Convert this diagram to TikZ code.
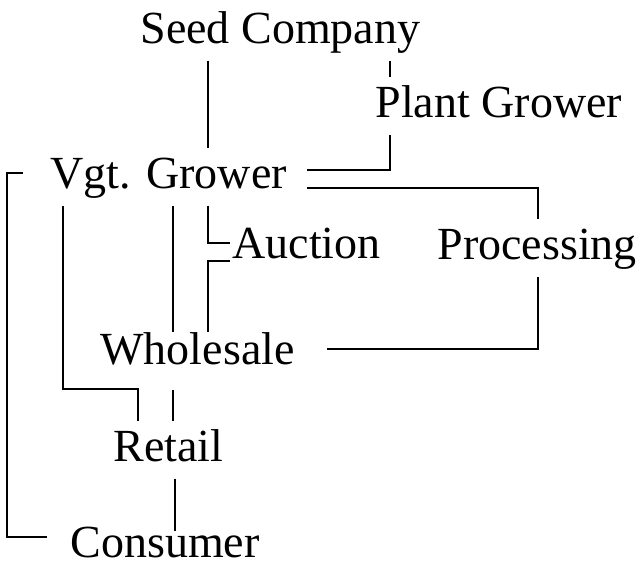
\documentclass[tikz,border=0pt]{standalone}
\usepackage{fontspec}
\setmainfont{Liberation Serif}

\begin{document}
\begin{tikzpicture}[x=0.5pt, y=-0.5pt, line width=0.55pt,
  stage/.style={font=\fontsize{23}{26}\selectfont, anchor=base west,
    inner xsep=1pt, inner ysep=3.5pt, text height=16pt, text depth=5pt}]
\useasboundingbox (0,0) rectangle (637,568);
\node[stage] (seed)    at (138,43)  {Seed Company};
\node[stage] (plant)   at (373,117) {Plant Grower};
\node[stage] (vgt)     at (48,188)  {Vgt. Grower};
\node[stage] (auction) at (230,258) {Auction};
\node[stage] (proc)    at (435,259) {Processing};
\node[stage] (whole)   at (98,364)  {Wholesale};
\node[stage] (retail)  at (111,461) {Retail};
\node[stage] (cons)    at (68,557)  {Consumer};
% trunks of the connectors
\coordinate (ka) at (208,0);
\coordinate (kb) at (390,0);
\coordinate (kc) at (538,0);
\coordinate (ke) at (173,0);
\coordinate (kf) at (63,0);
\coordinate (kg) at (138,389);
\coordinate (kh) at (175,0);
\coordinate (ki) at (7,350);
\draw (seed.south -| ka) -- (vgt.north -| ka);
\draw (seed.south -| kb) -- (plant.north -| kb);
\draw (plant.south -| kb) |- ([xshift=9pt,yshift=3.5pt]vgt.east);
\draw ([xshift=9pt,yshift=-5.5pt]vgt.east) -| (proc.north -| kc);
\draw (proc.south -| kc) |- ([xshift=15pt,yshift=2pt]whole.east);
\draw (vgt.south -| ka) |- ([yshift=2pt]auction.west);
\draw[shorten >=-4pt] ([yshift=-1.5pt]auction.base west) -| (whole.north -| ka);
\draw[shorten >=-4pt] (vgt.south -| ke) -- (whole.north -| ke);
\draw[shorten <=4pt] (whole.south -| ke) -- (retail.north -| ke);
\draw (vgt.south -| kf) |- (kg) -- (retail.north -| kg);
\draw[shorten >=-7pt] (retail.south -| kh) -- (cons.north -| kh);
\draw ([xshift=-12.5pt,yshift=2pt]vgt.west) -| (ki) |- ([xshift=-10.5pt,yshift=4.5pt]cons.west);
\end{tikzpicture}
\end{document}
